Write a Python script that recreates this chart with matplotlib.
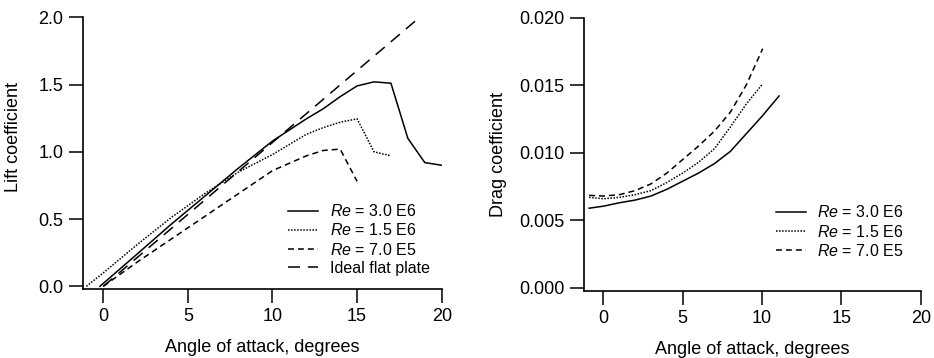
import matplotlib.pyplot as plt

plt.rcParams['font.family'] = ['Liberation Sans', 'DejaVu Sans']
plt.rcParams['mathtext.fontset'] = 'custom'
plt.rcParams['mathtext.rm'] = 'Liberation Sans'
plt.rcParams['mathtext.it'] = 'Liberation Sans:italic'

# ---------------- lift data ----------------
alpha_30e6 = [-0.2, 2, 4, 6, 8, 10, 12, 13, 14, 15, 16, 17, 18, 19, 20]
cl_30e6 = [0.0, 0.24, 0.46, 0.67, 0.88, 1.08, 1.245, 1.32, 1.41, 1.49, 1.52, 1.51, 1.10, 0.92, 0.90]

alpha_15e6 = [-1, 0, 2, 4, 6, 8, 10, 12, 13, 14, 15, 16, 17]
cl_15e6 = [0.0, 0.1, 0.31, 0.51, 0.69, 0.85, 0.98, 1.13, 1.18, 1.22, 1.245, 1.0, 0.97]

alpha_70e5 = [0, 2, 4, 6, 8, 10, 12, 13, 14, 15]
cl_70e5 = [0.0, 0.18, 0.35, 0.52, 0.69, 0.86, 0.97, 1.01, 1.02, 0.78]

alpha_flat = [0, 18.7]
cl_flat = [0.0, 2.0]

# ---------------- drag data ----------------
alpha_cd_30e6 = [-0.9, 0, 1, 2, 3, 4, 5, 6, 7, 8, 9, 10, 11.07]
cd_30e6 = [0.0059, 0.00605, 0.0063, 0.0065, 0.0068, 0.0073, 0.0079, 0.0085, 0.0092, 0.0101, 0.0114, 0.0127, 0.0142]

alpha_cd_15e6 = [-0.9, 0, 1, 2, 3, 4, 5, 6, 7, 8, 9, 10.04]
cd_15e6 = [0.0067, 0.0066, 0.0067, 0.0069, 0.0072, 0.0078, 0.0085, 0.0093, 0.0103, 0.0119, 0.0136, 0.0151]

alpha_cd_70e5 = [-0.9, 0, 1, 2, 3, 4, 5, 6, 7, 8, 9, 10.04]
cd_70e5 = [0.00685, 0.0068, 0.0069, 0.0072, 0.0077, 0.0085, 0.0095, 0.0105, 0.0116, 0.0130, 0.0150, 0.0177]

labels = ['$Re$ = 3.0 E6', '$Re$ = 1.5 E6', '$Re$ = 7.0 E5', 'Ideal flat plate']
xticks = [0, 5, 10, 15, 20]

LW = 1.1
short_dash = (3.9, 2.6)
long_dash = (7.8, 5.2)
dots = (1, 1)
legend_kw = dict(loc='upper left', frameon=False, fontsize=11.5, handlelength=1.9,
                 handletextpad=0.7, labelspacing=0.2, borderpad=0, borderaxespad=0)


def style_axes(ax):
    for side in ['top', 'right']:
        ax.spines[side].set_visible(False)
    for side in ['left', 'bottom']:
        ax.spines[side].set_linewidth(1.2)
    ax.tick_params(direction='out', length=10, width=1.1, labelsize=13, pad=4)
    ax.set_xticks(xticks)


fig = plt.figure(figsize=(9.34, 3.58), dpi=100)

# ----------------------------- lift -----------------------------
ax1 = fig.add_axes([0.0885, 0.1927, 0.3844, 0.759])
ax1.plot(alpha_30e6, cl_30e6, color='k', lw=LW, label=labels[0])
ax1.plot(alpha_15e6, cl_15e6, color='k', lw=LW, dashes=dots, label=labels[1])
ax1.plot(alpha_70e5, cl_70e5, color='k', lw=LW, dashes=short_dash, label=labels[2])
ax1.plot(alpha_flat, cl_flat, color='k', lw=LW, dashes=long_dash, label=labels[3])
ax1.set_xlim(-1.22, 20)
ax1.set_ylim(-0.02, 2.0)
ax1.set_yticks([0.0, 0.5, 1.0, 1.5, 2.0])
ax1.set_yticklabels(['0.0', '0.5', '1.0', '1.5', '2.0'])
style_axes(ax1)
ax1.set_xlabel('Angle of attack, degrees', fontsize=13)
ax1.set_ylabel('Lift coefficient', fontsize=13)
ax1.yaxis.set_label_coords(-0.17, 0.56)
ax1.xaxis.set_label_coords(0.5, -0.185)
ax1.legend(bbox_to_anchor=(0.572, 0.316), **legend_kw)

# ----------------------------- drag -----------------------------
ax2 = fig.add_axes([0.6253, 0.188, 0.3605, 0.763])
ax2.plot(alpha_cd_30e6, cd_30e6, color='k', lw=LW, label=labels[0])
ax2.plot(alpha_cd_15e6, cd_15e6, color='k', lw=LW, dashes=dots, label=labels[1])
ax2.plot(alpha_cd_70e5, cd_70e5, color='k', lw=LW, dashes=short_dash, label=labels[2])
ax2.set_xlim(-1.22, 20)
ax2.set_ylim(-0.0002, 0.020)
ax2.set_yticks([0.0, 0.005, 0.010, 0.015, 0.020])
ax2.set_yticklabels(['0.000', '0.005', '0.010', '0.015', '0.020'])
style_axes(ax2)
ax2.set_xlabel('Angle of attack, degrees', fontsize=13)
ax2.set_ylabel('Drag coefficient', fontsize=13)
ax2.yaxis.set_label_coords(-0.23, 0.5)
ax2.xaxis.set_label_coords(0.5, -0.185)
ax2.legend(bbox_to_anchor=(0.570, 0.316), **legend_kw)

fig.savefig('out.png', dpi=100)
